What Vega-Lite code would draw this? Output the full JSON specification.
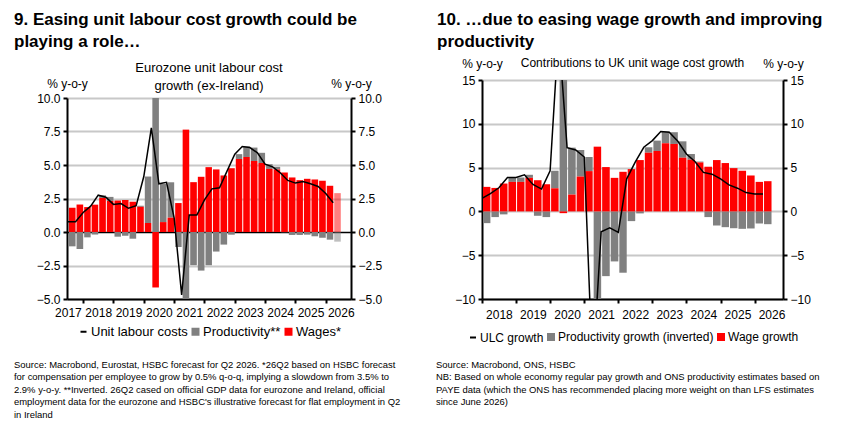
{
  "$schema": "https://vega.github.io/schema/vega-lite/v6.json",
  "padding": {"left": 14, "top": 0, "right": 5, "bottom": 5},
  "config": {
    "font": "Liberation Sans",
    "view": {"stroke": null},
    "axis": {
      "labelFontSize": 12, "labelColor": "#000", "domainColor": "#000", "domainWidth": 2,
      "tickColor": "#000", "tickWidth": 2, "tickSize": 4, "gridColor": "#c8c8c8", "gridWidth": 2,
      "titleFontWeight": "normal", "titleFontSize": 12, "titleColor": "#000", "labelPadding": 3
    },
    "legend": {
      "orient": "bottom", "direction": "horizontal", "title": null, "labelColor": "#000",
      "symbolSize": 36, "columnPadding": 0, "labelOffset": 1, "offset": 5,
      "layout": {"bottom": {"anchor": "middle"}}
    },
    "title": {"color": "#000"}
  },
  "datasets": {
    "ez": [
      {"date": "2017-07-01", "wages": 1.81, "prod": -1.07, "ulc": 0.77},
      {"date": "2017-10-01", "wages": 2.05, "prod": -1.27, "ulc": 0.77},
      {"date": "2018-01-01", "wages": 1.86, "prod": -0.40, "ulc": 1.46},
      {"date": "2018-04-01", "wages": 2.04, "prod": -0.19, "ulc": 1.93},
      {"date": "2018-07-01", "wages": 2.54, "prod": 0.20, "ulc": 2.75},
      {"date": "2018-10-01", "wages": 2.32, "prod": 0.30, "ulc": 2.60},
      {"date": "2019-01-01", "wages": 2.35, "prod": -0.35, "ulc": 2.06},
      {"date": "2019-04-01", "wages": 2.39, "prod": -0.28, "ulc": 2.12},
      {"date": "2019-07-01", "wages": 2.26, "prod": -0.50, "ulc": 1.77},
      {"date": "2019-10-01", "wages": 1.88, "prod": 0.08, "ulc": 1.96},
      {"date": "2020-01-01", "wages": 0.67, "prod": 3.47, "ulc": 4.14},
      {"date": "2020-04-01", "wages": -4.14, "prod": 11.9, "ulc": 7.77},
      {"date": "2020-07-01", "wages": 0.74, "prod": 2.85, "ulc": 3.60},
      {"date": "2020-10-01", "wages": 1.07, "prod": 2.64, "ulc": 3.71},
      {"date": "2021-01-01", "wages": 2.16, "prod": -1.12, "ulc": 1.03},
      {"date": "2021-04-01", "wages": 7.64, "prod": -12.3, "ulc": -4.69},
      {"date": "2021-07-01", "wages": 3.72, "prod": -2.48, "ulc": 1.26},
      {"date": "2021-10-01", "wages": 4.12, "prod": -2.88, "ulc": 1.26},
      {"date": "2022-01-01", "wages": 4.84, "prod": -2.48, "ulc": 2.40},
      {"date": "2022-04-01", "wages": 4.67, "prod": -1.46, "ulc": 3.22},
      {"date": "2022-07-01", "wages": 4.22, "prod": -0.94, "ulc": 3.30},
      {"date": "2022-10-01", "wages": 4.76, "prod": -0.20, "ulc": 4.56},
      {"date": "2023-01-01", "wages": 5.45, "prod": 0.36, "ulc": 5.81},
      {"date": "2023-04-01", "wages": 5.60, "prod": 0.78, "ulc": 6.38},
      {"date": "2023-07-01", "wages": 5.30, "prod": 1.00, "ulc": 6.30},
      {"date": "2023-10-01", "wages": 5.15, "prod": 0.76, "ulc": 5.91},
      {"date": "2024-01-01", "wages": 4.71, "prod": 0.35, "ulc": 5.06},
      {"date": "2024-04-01", "wages": 4.67, "prod": 0.19, "ulc": 4.86},
      {"date": "2024-07-01", "wages": 4.44, "prod": -0.02, "ulc": 4.42},
      {"date": "2024-10-01", "wages": 4.07, "prod": -0.22, "ulc": 3.85},
      {"date": "2025-01-01", "wages": 3.87, "prod": -0.22, "ulc": 3.65},
      {"date": "2025-04-01", "wages": 3.97, "prod": -0.20, "ulc": 3.77},
      {"date": "2025-07-01", "wages": 3.92, "prod": -0.32, "ulc": 3.60},
      {"date": "2025-10-01", "wages": 3.82, "prod": -0.42, "ulc": 3.40},
      {"date": "2026-01-01", "wages": 3.45, "prod": -0.57, "ulc": 2.88},
      {"date": "2026-04-01", "wages": 2.90, "prod": -0.72, "ulc": 2.18, "forecast": true}
    ],
    "uk": [
      {"date": "2018-01-01", "wages": 2.80, "prod": -1.34, "ulc": 1.50},
      {"date": "2018-04-01", "wages": 2.68, "prod": -0.65, "ulc": 2.03},
      {"date": "2018-07-01", "wages": 3.18, "prod": -0.34, "ulc": 2.70},
      {"date": "2018-10-01", "wages": 3.37, "prod": 0.50, "ulc": 3.87},
      {"date": "2019-01-01", "wages": 3.37, "prod": 0.50, "ulc": 3.87},
      {"date": "2019-04-01", "wages": 3.83, "prod": 0.35, "ulc": 4.18},
      {"date": "2019-07-01", "wages": 3.56, "prod": -0.50, "ulc": 3.08},
      {"date": "2019-10-01", "wages": 3.10, "prod": -0.65, "ulc": 2.55},
      {"date": "2020-01-01", "wages": 2.64, "prod": 2.00, "ulc": 4.64},
      {"date": "2020-04-01", "wages": -0.20, "prod": 20.7, "ulc": 20.5},
      {"date": "2020-07-01", "wages": 1.92, "prod": 5.36, "ulc": 7.28},
      {"date": "2020-10-01", "wages": 3.98, "prod": 3.03, "ulc": 7.01},
      {"date": "2021-01-01", "wages": 4.60, "prod": 1.61, "ulc": 6.21},
      {"date": "2021-04-01", "wages": 7.39, "prod": -25.9, "ulc": -18.5},
      {"date": "2021-07-01", "wages": 5.06, "prod": -7.39, "ulc": -2.33},
      {"date": "2021-10-01", "wages": 3.83, "prod": -5.71, "ulc": -1.88},
      {"date": "2022-01-01", "wages": 4.52, "prod": -7.00, "ulc": -2.40},
      {"date": "2022-04-01", "wages": 4.83, "prod": -1.11, "ulc": 3.72},
      {"date": "2022-07-01", "wages": 5.86, "prod": -0.23, "ulc": 5.63},
      {"date": "2022-10-01", "wages": 6.70, "prod": 0.62, "ulc": 7.32},
      {"date": "2023-01-01", "wages": 6.90, "prod": 1.18, "ulc": 8.08},
      {"date": "2023-04-01", "wages": 7.78, "prod": 1.34, "ulc": 9.12},
      {"date": "2023-07-01", "wages": 7.70, "prod": 1.34, "ulc": 9.04},
      {"date": "2023-10-01", "wages": 6.13, "prod": 1.87, "ulc": 8.00},
      {"date": "2024-01-01", "wages": 5.90, "prod": 0.65, "ulc": 6.55},
      {"date": "2024-04-01", "wages": 5.59, "prod": 0.10, "ulc": 5.69},
      {"date": "2024-07-01", "wages": 5.10, "prod": -0.65, "ulc": 4.45},
      {"date": "2024-10-01", "wages": 5.86, "prod": -1.61, "ulc": 4.25},
      {"date": "2025-01-01", "wages": 5.52, "prod": -1.80, "ulc": 3.72},
      {"date": "2025-04-01", "wages": 4.94, "prod": -1.92, "ulc": 3.02},
      {"date": "2025-07-01", "wages": 4.64, "prod": -1.99, "ulc": 2.65},
      {"date": "2025-10-01", "wages": 4.10, "prod": -1.95, "ulc": 2.15},
      {"date": "2026-01-01", "wages": 3.37, "prod": -1.38, "ulc": 1.99},
      {"date": "2026-04-01", "wages": 3.45, "prod": -1.46, "ulc": 1.99}
    ]
  },
  "resolve": {"scale": {"color": "independent", "fillOpacity": "independent"}, "legend": {"color": "independent"}},
  "spacing": 35,
  "hconcat": [
    {
      "bounds": "flush",
      "spacing": 91,
      "resolve": {"scale": {"color": "independent", "fillOpacity": "independent"}, "legend": {"color": "independent"}},
      "vconcat": [
        {
          "width": 284,
          "height": 1,
          "data": {"values": [{}]},
          "mark": {"type": "text", "text": ""},
          "title": {
            "text": ["9. Easing unit labour cost growth could be", "playing a role…"],
            "orient": "bottom", "anchor": "start", "frame": "group", "dx": -53, "offset": 0,
            "fontSize": 17, "fontWeight": "bold", "lineHeight": 22
          }
        },
        {
          "bounds": "flush",
          "spacing": 56,
          "resolve": {"scale": {"color": "independent", "fillOpacity": "independent"}, "legend": {"color": "independent"}},
          "vconcat": [
            {
              "width": 284,
              "height": 201,
              "title": {
                "text": ["Eurozone unit labour cost", "growth (ex-Ireland)"],
                "anchor": "middle", "frame": "group", "fontSize": 13, "fontWeight": "normal",
                "lineHeight": 18, "offset": -16
              },
              "data": {"name": "ez"},
              "resolve": {"axis": {"x": "independent", "y": "independent"}},
              "layer": [
                {
                  "transform": [{"fold": ["prod", "wages"], "as": ["series", "value"]}],
                  "mark": {"type": "bar", "clip": true, "timeUnitBandSize": 0.88},
                  "encoding": {
                    "x": {
                      "field": "date", "timeUnit": "utcyearquarter", "type": "temporal",
                      "scale": {"domain": [
                        {"year": 2017, "month": 6, "date": 20, "utc": true},
                        {"year": 2026, "month": 11, "date": 1, "utc": true}
                      ]},
                      "axis": {
                        "orient": "bottom", "title": null, "labels": false, "grid": false,
                        "values": [
                          {"year": 2018, "month": 1, "date": 1, "utc": true},
                          {"year": 2019, "month": 1, "date": 1, "utc": true},
                          {"year": 2020, "month": 1, "date": 1, "utc": true},
                          {"year": 2021, "month": 1, "date": 1, "utc": true},
                          {"year": 2022, "month": 1, "date": 1, "utc": true},
                          {"year": 2023, "month": 1, "date": 1, "utc": true},
                          {"year": 2024, "month": 1, "date": 1, "utc": true},
                          {"year": 2025, "month": 1, "date": 1, "utc": true},
                          {"year": 2026, "month": 1, "date": 1, "utc": true}
                        ]
                      }
                    },
                    "y": {
                      "field": "value", "type": "quantitative", "stack": "zero",
                      "scale": {"domain": [-5, 10], "nice": false},
                      "axis": {
                        "orient": "left", "values": [-5, -2.5, 0, 2.5, 5, 7.5, 10], "format": ".1f",
                        "title": "% y-o-y", "titleAngle": 0, "titleX": 0, "titleY": -8,
                        "titleAlign": "center", "titleBaseline": "bottom",
                        "gridColor": {"condition": {"test": "datum.value === 0", "value": "#000"}, "value": "#c8c8c8"},
                        "gridWidth": {"condition": {"test": "datum.value === 0", "value": 1.5}, "value": 2}
                      }
                    },
                    "color": {
                      "field": "series", "type": "nominal",
                      "scale": {"domain": ["ulc", "prod", "wages"], "range": ["#000000", "#808080", "#ff0000"]},
                      "legend": {
                        "labelFontSize": 13, "offset": 7,
                        "labelExpr": "datum.label == 'ulc' ? 'Unit labour costs' : datum.label == 'prod' ? 'Productivity**' : 'Wages*'",
                        "encode": {"symbols": {"update": {
                          "shape": {"signal": "datum.value == 'ulc' ? 'stroke' : 'square'"},
                          "stroke": {"signal": "datum.value == 'ulc' ? '#000' : null"},
                          "strokeWidth": {"value": 2}
                        }}}
                      }
                    },
                    "order": {"field": "series", "sort": "descending"},
                    "fillOpacity": {"condition": {"test": "datum.forecast", "value": 0.5}, "value": 1}
                  }
                },
                {
                  "transform": [{"fold": ["ulc"], "as": ["series", "value"]}],
                  "mark": {"type": "line", "clip": true, "strokeWidth": 1.5, "timeUnitBandPosition": 0.5},
                  "encoding": {
                    "x": {
                      "field": "date", "timeUnit": "utcyearquarter", "type": "temporal",
                      "axis": {
                        "orient": "bottom", "title": null, "ticks": false, "domain": false, "grid": false,
                        "format": "%Y", "labelOverlap": false, "labelFlush": false, "labelPadding": 8,
                        "values": [
                          {"year": 2017, "month": 7, "date": 1, "utc": true},
                          {"year": 2018, "month": 7, "date": 1, "utc": true},
                          {"year": 2019, "month": 7, "date": 1, "utc": true},
                          {"year": 2020, "month": 7, "date": 1, "utc": true},
                          {"year": 2021, "month": 7, "date": 1, "utc": true},
                          {"year": 2022, "month": 7, "date": 1, "utc": true},
                          {"year": 2023, "month": 7, "date": 1, "utc": true},
                          {"year": 2024, "month": 7, "date": 1, "utc": true},
                          {"year": 2025, "month": 7, "date": 1, "utc": true},
                          {"year": 2026, "month": 7, "date": 1, "utc": true}
                        ]
                      }
                    },
                    "y": {
                      "field": "value", "type": "quantitative",
                      "axis": {
                        "orient": "right", "values": [-5, -2.5, 0, 2.5, 5, 7.5, 10], "format": ".1f", "grid": false,
                        "title": "% y-o-y", "titleAngle": 0, "titleX": 0, "titleY": -8,
                        "titleAlign": "center", "titleBaseline": "bottom"
                      }
                    },
                    "color": {"field": "series", "type": "nominal"}
                  }
                }
              ]
            },
            {
              "width": 284,
              "height": 1,
              "data": {"values": [{}]},
              "mark": {"type": "text", "text": ""},
              "title": {
                "text": [
                  "Source: Macrobond, Eurostat, HSBC forecast for Q2 2026. *26Q2 based on HSBC forecast",
                  "for compensation per employee to grow by 0.5% q-o-q, implying a slowdown from 3.5% to",
                  "2.9% y-o-y. **Inverted. 26Q2 cased on official GDP data for eurozone and Ireland, official",
                  "employment data for the eurozone and HSBC's illustrative forecast for flat employment in Q2",
                  "in Ireland"
                ],
                "orient": "bottom", "anchor": "start", "frame": "group", "dx": -53, "offset": 0,
                "fontSize": 9.45, "fontWeight": "normal", "lineHeight": 12.5
              }
            }
          ]
        }
      ]
    },
    {
      "bounds": "flush",
      "spacing": 73,
      "resolve": {"scale": {"color": "independent"}, "legend": {"color": "independent"}},
      "vconcat": [
        {
          "width": 301,
          "height": 1,
          "data": {"values": [{}]},
          "mark": {"type": "text", "text": ""},
          "title": {
            "text": ["10. …due to easing wage growth and improving", "productivity"],
            "orient": "bottom", "anchor": "start", "frame": "group", "dx": -45, "offset": 0,
            "fontSize": 17, "fontWeight": "bold", "lineHeight": 22
          }
        },
        {
          "bounds": "flush",
          "spacing": 56,
          "resolve": {"scale": {"color": "independent"}, "legend": {"color": "independent"}},
          "vconcat": [
            {
              "width": 301,
              "height": 219,
              "title": {
                "text": "Contributions to UK unit wage cost growth",
                "anchor": "middle", "frame": "group", "fontSize": 12, "fontWeight": "normal", "offset": -13
              },
              "data": {"name": "uk"},
              "resolve": {"axis": {"x": "independent", "y": "independent"}},
              "layer": [
                {
                  "transform": [{"fold": ["prod", "wages"], "as": ["series", "value"]}],
                  "mark": {"type": "bar", "clip": true, "timeUnitBandSize": 0.87},
                  "encoding": {
                    "x": {
                      "field": "date", "timeUnit": "utcyearquarter", "type": "temporal",
                      "scale": {"domain": [
                        {"year": 2018, "month": 1, "date": 1, "utc": true},
                        {"year": 2026, "month": 11, "date": 1, "utc": true}
                      ]},
                      "axis": {
                        "orient": "bottom", "title": null, "labels": false, "grid": false,
                        "values": [
                          {"year": 2018, "month": 1, "date": 1, "utc": true},
                          {"year": 2019, "month": 1, "date": 1, "utc": true},
                          {"year": 2020, "month": 1, "date": 1, "utc": true},
                          {"year": 2021, "month": 1, "date": 1, "utc": true},
                          {"year": 2022, "month": 1, "date": 1, "utc": true},
                          {"year": 2023, "month": 1, "date": 1, "utc": true},
                          {"year": 2024, "month": 1, "date": 1, "utc": true},
                          {"year": 2025, "month": 1, "date": 1, "utc": true},
                          {"year": 2026, "month": 1, "date": 1, "utc": true}
                        ]
                      }
                    },
                    "y": {
                      "field": "value", "type": "quantitative", "stack": "zero",
                      "scale": {"domain": [-10, 15], "nice": false},
                      "axis": {
                        "orient": "left", "values": [-10, -5, 0, 5, 10, 15], "format": "d",
                        "title": "% y-o-y", "titleAngle": 0, "titleX": 0, "titleY": -10,
                        "titleAlign": "center", "titleBaseline": "bottom"
                      }
                    },
                    "color": {
                      "field": "series", "type": "nominal",
                      "scale": {"domain": ["ulc", "prod", "wages"], "range": ["#000000", "#808080", "#ff0000"]},
                      "legend": {
                        "labelFontSize": 12, "offset": 11,
                        "labelExpr": "datum.label == 'ulc' ? 'ULC growth' : datum.label == 'prod' ? 'Productivity growth (inverted)' : 'Wage growth'",
                        "encode": {"symbols": {"update": {
                          "shape": {"signal": "datum.value == 'ulc' ? 'stroke' : 'square'"},
                          "stroke": {"signal": "datum.value == 'ulc' ? '#000' : null"},
                          "strokeWidth": {"value": 2}
                        }}}
                      }
                    },
                    "order": {"field": "series", "sort": "descending"}
                  }
                },
                {
                  "transform": [{"fold": ["ulc"], "as": ["series", "value"]}],
                  "mark": {"type": "line", "clip": true, "strokeWidth": 1.5, "timeUnitBandPosition": 0.5},
                  "encoding": {
                    "x": {
                      "field": "date", "timeUnit": "utcyearquarter", "type": "temporal",
                      "axis": {
                        "orient": "bottom", "title": null, "ticks": false, "domain": false, "grid": false,
                        "format": "%Y", "labelOverlap": false, "labelFlush": false, "labelPadding": 10,
                        "values": [
                          {"year": 2018, "month": 7, "date": 1, "utc": true},
                          {"year": 2019, "month": 7, "date": 1, "utc": true},
                          {"year": 2020, "month": 7, "date": 1, "utc": true},
                          {"year": 2021, "month": 7, "date": 1, "utc": true},
                          {"year": 2022, "month": 7, "date": 1, "utc": true},
                          {"year": 2023, "month": 7, "date": 1, "utc": true},
                          {"year": 2024, "month": 7, "date": 1, "utc": true},
                          {"year": 2025, "month": 7, "date": 1, "utc": true},
                          {"year": 2026, "month": 7, "date": 1, "utc": true}
                        ]
                      }
                    },
                    "y": {
                      "field": "value", "type": "quantitative",
                      "axis": {
                        "orient": "right", "values": [-10, -5, 0, 5, 10, 15], "format": "d", "grid": false,
                        "title": "% y-o-y", "titleAngle": 0, "titleX": 0, "titleY": -10,
                        "titleAlign": "center", "titleBaseline": "bottom"
                      }
                    },
                    "color": {"field": "series", "type": "nominal"}
                  }
                }
              ]
            },
            {
              "width": 301,
              "height": 1,
              "data": {"values": [{}]},
              "mark": {"type": "text", "text": ""},
              "title": {
                "text": [
                  "Source: Macrobond, ONS, HSBC",
                  "NB: Based on whole economy regular pay growth and ONS productivity estimates based on",
                  "PAYE data (which the ONS has recommended placing more weight on than LFS estimates",
                  "since June 2026)"
                ],
                "orient": "bottom", "anchor": "start", "frame": "group", "dx": -46, "offset": 0,
                "fontSize": 9.45, "fontWeight": "normal", "lineHeight": 12.5
              }
            }
          ]
        }
      ]
    }
  ]
}
